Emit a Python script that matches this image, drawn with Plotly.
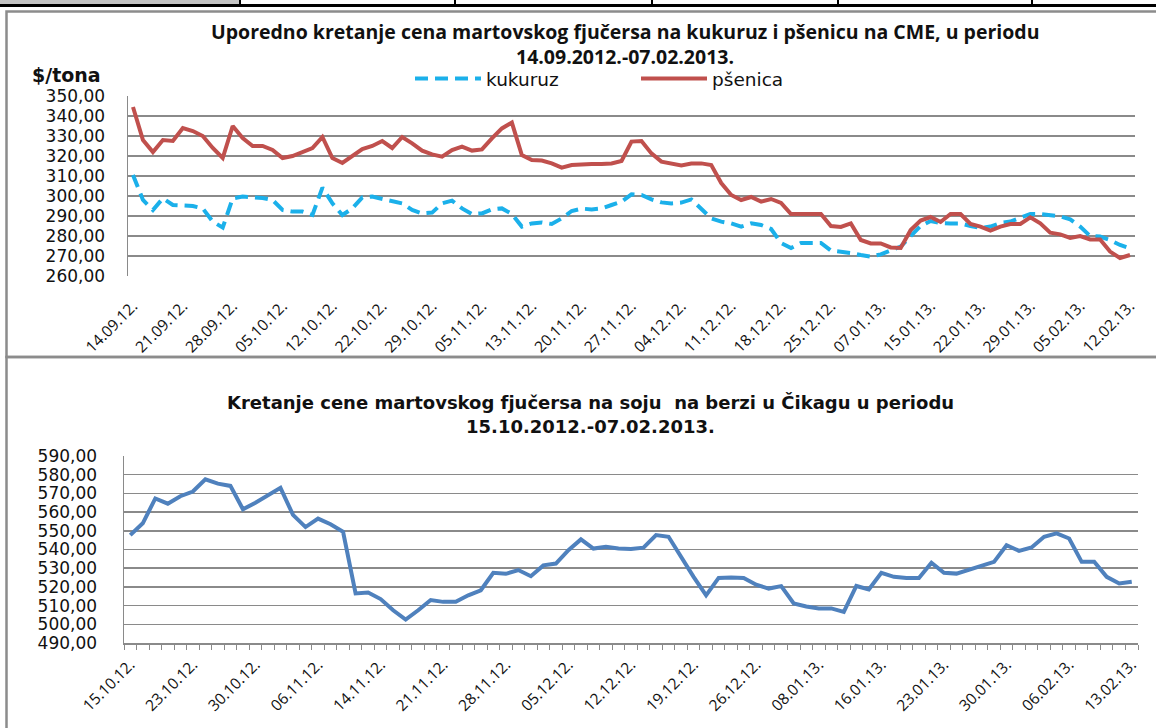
import plotly.graph_objects as go

W, H = 1156, 728

# ---------------- data: top chart ----------------
top_labels = ["14.09.12.", "21.09.12.", "28.09.12.", "05.10.12.", "12.10.12.", "22.10.12.",
              "29.10.12.", "05.11.12.", "13.11.12.", "20.11.12.", "27.11.12.", "04.12.12.",
              "11.12.12.", "18.12.12.", "25.12.12.", "07.01.13.", "15.01.13.", "22.01.13.",
              "29.01.13.", "05.02.13.", "12.02.13."]

kukuruz = [310.5, 298, 293, 298.8, 295.5, 295, 295, 293.8, 287.2, 284.2,
           298.8, 299.7, 299.3, 299, 298, 293, 292.2, 292.2, 290.5, 304.2,
           296.3, 290.5, 293.8, 299.3, 299.7, 298.5, 297.7, 296.3, 293, 291.3,
           291.7, 296.3, 297.7, 293.8, 291, 291.3, 293.3, 293.8, 291, 284.7,
           286.3, 286.8, 286, 288.8, 292.5, 293.7, 293.3, 293.8, 295.5, 297.2,
           300.8, 300.5, 298.3, 296.8, 296.3, 296.7, 298.3, 293.8, 288.8, 287.2,
           286.3, 284.7, 286.3, 285.5, 283.5, 276.5, 274, 276.5, 276.7, 276.5,
           272.7, 272.2, 271.5, 270.5, 269.7, 270.8, 272.5, 274.7, 280, 285,
           287.5, 286.5, 286.3, 286.3, 285, 284, 284.7, 286.5, 287.2, 289,
           291, 291, 290.3, 289.8, 288.3, 284.7, 280, 279.7, 278, 275.5, 273.8]

psenica = [344.5, 328, 322, 328, 327.5, 334, 332.5, 330, 324, 319,
           335, 329, 325, 325, 323, 319, 320, 322, 324, 329.5,
           319, 316.5, 320, 323.5, 325, 327.5, 324, 329.5, 326.3, 322.7,
           320.8, 319.7, 323, 324.7, 322.7, 323.3, 328.8, 333.8, 336.7, 320.5,
           318, 317.7, 316.3, 314.2, 315.5, 316, 316, 316, 316.3, 317.5,
           327.2, 327.5, 321.3, 317.2, 316, 315.3, 316.2, 316.3, 315.5, 306.5,
           300.5, 298, 299.5, 297.2, 298.5, 296.5, 291, 291, 291, 291,
           285, 284.5, 286.3, 278, 276.3, 276.3, 274.3, 274, 283, 287.7,
           289.5, 287, 291, 291, 286, 284.7, 282.7, 284.7, 286, 286,
           289.3, 286.3, 281.7, 280.8, 279, 280, 278.3, 278.3, 272.2, 269, 270.5]

# ---------------- data: bottom chart ----------------
bot_labels = ["15.10.12.", "23.10.12.", "30.10.12.", "06.11.12.", "14.11.12.", "21.11.12.",
              "28.11.12.", "05.12.12.", "12.12.12.", "19.12.12.", "26.12.12.", "08.01.13.",
              "16.01.13.", "23.01.13.", "30.01.13.", "06.02.13.", "13.02.13."]

soja = [547.7, 554, 567.3, 564.5, 568.5, 571, 577.5, 575.2, 574, 561.5,
        565, 569, 573, 558.5, 552, 556.5, 553.5, 549.5, 516.5, 517,
        513.5, 507.5, 502.5, 507.5, 513, 512, 512, 515.5, 518.2, 527.5,
        527, 529, 525.7, 531.5, 532.5, 539.6, 545.4, 540.5, 541.4, 540.5,
        540.3, 541, 547.7, 546.8, 536, 525.4, 515.5, 524.8, 525, 524.8,
        521.2, 519.1, 520.4, 511.1, 509.5, 508.5, 508.5, 506.6, 520.5, 518.6,
        527.5, 525.4, 524.8, 524.8, 532.9, 527.5, 527.1, 529.3, 531.3, 533.4,
        542.3, 539.3, 541.1, 546.8, 548.6, 545.9, 533.4, 533.4, 525.4, 521.8, 522.7]

TOP_TITLE_1 = "Uporedno kretanje cena martovskog fjučersa na kukuruz i pšenicu na CME, u periodu"
TOP_TITLE_2 = "14.09.2012.-07.02.2013."
BOT_TITLE_1 = "Kretanje cene martovskog fjučersa na soju  na berzi u Čikagu u periodu"
BOT_TITLE_2 = "15.10.2012.-07.02.2013."

# ---------------- helpers ----------------
def px(x):
    return x / W

def py(y):
    return 1 - y / H

GRID = "#8a8a8a"
CLEAR = "rgba(0,0,0,0)"
TICKFONT_Y = dict(family="DejaVu Sans", size=17, color="#111")
TICKFONT_X = dict(family="Open Sans", size=15.5, color="#111")

top_x = list(range(len(psenica)))
bot_x = list(range(len(soja)))
top_step = 5
bot_step = 5

fig = go.Figure()

fig.add_trace(go.Scatter(x=top_x, y=kukuruz, name="kukuruz", mode="lines",
                         line=dict(color="#1BB0EA", width=4, dash="13px,7px"),
                         xaxis="x", yaxis="y"))
fig.add_trace(go.Scatter(x=top_x, y=psenica, name="pšenica", mode="lines",
                         line=dict(color="#C0504D", width=4),
                         xaxis="x", yaxis="y"))
fig.add_trace(go.Scatter(x=bot_x, y=soja, name="soja", mode="lines",
                         line=dict(color="#4F81BD", width=4),
                         showlegend=False, xaxis="x2", yaxis="y2"))

fig.update_layout(
    template="none",
    width=W, height=H,
    margin=dict(l=0, r=0, t=0, b=0, autoexpand=False),
    paper_bgcolor="white", plot_bgcolor="white",
    separators=",.",
    showlegend=True,
    legend=dict(orientation="h", x=px(410), y=py(79), xanchor="left", yanchor="middle",
                font=dict(family="DejaVu Sans", size=18.5, color="#111"),
                itemwidth=66, entrywidth=145, entrywidthmode="pixels",
                bgcolor=CLEAR),
    xaxis=dict(domain=[px(128), px(1135)], range=[-0.5, len(psenica) - 0.5],
               tickmode="array", tickvals=top_x[::top_step], ticktext=top_labels,
               tickangle=-45, tickfont=TICKFONT_X, showgrid=False, zeroline=False,
               showline=False, ticks="outside", ticklen=14, tickcolor=CLEAR,
               anchor="y", automargin=False, fixedrange=True),
    yaxis=dict(domain=[py(276), py(96)], range=[260, 350], dtick=10, tickformat=".2f",
               tickfont=TICKFONT_Y, showgrid=True, gridcolor=GRID, gridwidth=1.5,
               zeroline=False, showline=True, linecolor=GRID, linewidth=1.5,
               ticks="outside", ticklen=18, tickcolor=CLEAR, anchor="x", automargin=False),
    xaxis2=dict(domain=[px(124), px(1138)], range=[-0.5, len(soja) - 0.5],
                tickmode="array", tickvals=bot_x[::bot_step], ticktext=bot_labels,
                tickangle=-45, tickfont=TICKFONT_X, showgrid=False, zeroline=False,
                showline=True, linecolor=GRID, linewidth=1.5,
                ticks="outside", ticklen=5, tickcolor=CLEAR,
                minor=dict(tickmode="array", tickvals=[i - 0.5 for i in range(len(soja) + 1)],
                           ticks="outside", ticklen=5, tickcolor=GRID, tickwidth=1,
                           showgrid=False),
                anchor="y2", automargin=False, fixedrange=True),
    yaxis2=dict(domain=[py(643), py(456)], range=[490, 590], dtick=10, tickformat=".2f",
                tickfont=TICKFONT_Y, showgrid=True, gridcolor=GRID, gridwidth=1.5,
                zeroline=False, showline=True, linecolor=GRID, linewidth=1.5,
                ticks="outside", ticklen=22, tickcolor=CLEAR, anchor="x2", automargin=False),
)

TITLE_FONT = dict(family="Open Sans", size=19.5, color="#111")
BOT_TITLE_FONT = dict(family="DejaVu Sans", size=18, color="#111")
annotations = [
    dict(text="<b>" + TOP_TITLE_1 + "</b>", x=px(625), y=py(31.5), font=TITLE_FONT),
    dict(text="<b>" + TOP_TITLE_2 + "</b>", x=px(625), y=py(56.5), font=TITLE_FONT),
    dict(text="<b>$/tona</b>", x=px(30), y=py(75), xanchor="left",
         font=dict(family="DejaVu Sans", size=19, color="#111")),
    dict(text="<b>" + BOT_TITLE_1 + "</b>", x=px(590), y=py(402), font=BOT_TITLE_FONT),
    dict(text="<b>" + BOT_TITLE_2 + "</b>", x=px(590), y=py(426), font=BOT_TITLE_FONT),
]
for a in annotations:
    a.setdefault("xanchor", "center")
    a.update(xref="paper", yref="paper", yanchor="middle", showarrow=False)
fig.update_layout(annotations=annotations)

shapes = [
    dict(type="rect", x0=px(0), x1=px(240), y0=py(0), y1=py(5), fillcolor="#c4c4c4",
         line=dict(width=0)),
    dict(type="line", x0=px(0), x1=px(1156), y0=py(5.5), y1=py(5.5),
         line=dict(color="black", width=3)),
    dict(type="rect", x0=px(6.5), x1=px(1170), y0=py(11.5), y1=py(357),
         line=dict(color="#8c8c8c", width=2.5)),
    dict(type="rect", x0=px(6.5), x1=px(1170), y0=py(357), y1=py(760),
         line=dict(color="#8c8c8c", width=2.5)),
]
for xv in [240, 455, 652, 838, 1032]:
    shapes.append(dict(type="line", x0=px(xv), x1=px(xv), y0=py(0), y1=py(5),
                       line=dict(color="black", width=2)))
for s in shapes:
    s.update(xref="paper", yref="paper", layer="below")
fig.update_layout(shapes=shapes)

fig.write_html("out.html",
               config={"displayModeBar": False, "staticPlot": True},
               post_script="document.body.style.margin='0px';document.body.style.overflow='hidden';")
